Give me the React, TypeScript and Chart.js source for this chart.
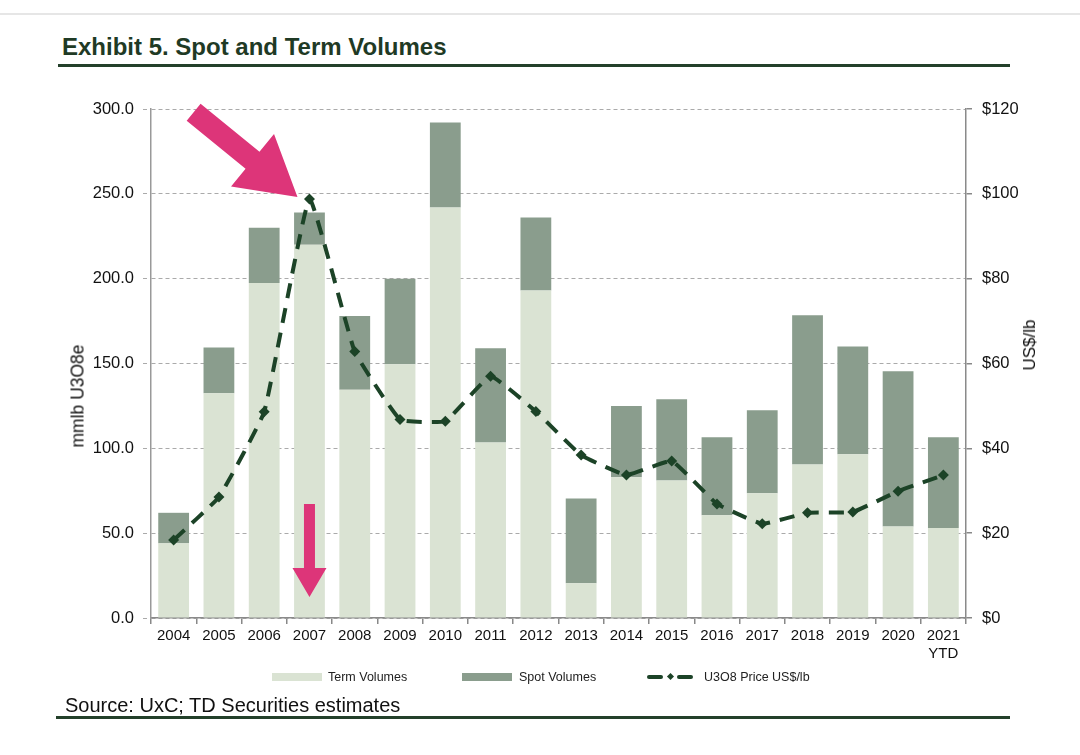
import React, { useEffect, useRef } from "react";
import { Chart, registerables } from "chart.js";

Chart.register(...registerables);

const categories: (string | string[])[] = [
  "2004", "2005", "2006", "2007", "2008", "2009", "2010", "2011", "2012",
  "2013", "2014", "2015", "2016", "2017", "2018", "2019", "2020", ["2021", "YTD"],
];
const termVolumes = [44, 132.5, 197.5, 220, 134.5, 149.5, 242, 103.5, 193, 20.5, 83, 81, 60.5, 73.5, 90.5, 96.5, 54, 53];
const totalVolumes = [62, 159.5, 230, 239, 178, 200, 292, 159, 236, 70.5, 125, 129, 106.5, 122.5, 178.5, 160, 145.5, 106.5];
const spotVolumes = totalVolumes.map((t, i) => Math.round((t - termVolumes[i]) * 10) / 10);
const priceUSD = [18.4, 28.5, 48.6, 98.8, 62.8, 46.8, 46.4, 57, 48.7, 38.4, 33.7, 37, 26.9, 22.2, 24.8, 25, 29.9, 33.7];
const leftTicks = { min: 0, max: 300, step: 50 };
const rightTicks = { min: 0, max: 120, step: 20 };

const TERM_COLOR = "#dae3d3";
const SPOT_COLOR = "#8a9d8d";
const LINE_COLOR = "#1c4327";
const PINK = "#dd3579";
const FONT = "'Liberation Sans', Arial, sans-serif";

function drawArrow(
  ctx: CanvasRenderingContext2D,
  tipX: number, tipY: number, dx: number, dy: number,
  len: number, shaftW: number, headLen: number, headHalf: number
) {
  const m = Math.hypot(dx, dy);
  const ux = dx / m, uy = dy / m;
  const nx = -uy, ny = ux;
  const tailX = tipX - ux * len, tailY = tipY - uy * len;
  const bX = tipX - ux * headLen, bY = tipY - uy * headLen;
  ctx.beginPath();
  ctx.moveTo(tailX + nx * shaftW / 2, tailY + ny * shaftW / 2);
  ctx.lineTo(bX + nx * shaftW / 2, bY + ny * shaftW / 2);
  ctx.lineTo(bX + nx * headHalf, bY + ny * headHalf);
  ctx.lineTo(tipX, tipY);
  ctx.lineTo(bX - nx * headHalf, bY - ny * headHalf);
  ctx.lineTo(bX - nx * shaftW / 2, bY - ny * shaftW / 2);
  ctx.lineTo(tailX - nx * shaftW / 2, tailY - ny * shaftW / 2);
  ctx.closePath();
  ctx.fill();
}

const arrowPlugin = {
  id: "pinkArrows",
  afterDraw(chart: any) {
    const ctx = chart.ctx as CanvasRenderingContext2D;
    const meta = chart.getDatasetMeta(2);
    const pt = meta.data[3];
    if (!pt) return;
    const xPix = chart.scales.x.getPixelForValue(3);
    ctx.save();
    ctx.fillStyle = PINK;
    drawArrow(ctx, pt.x - 12, pt.y - 2, 103, 84, 134, 22, 58, 34);
    drawArrow(ctx, xPix, chart.chartArea.bottom - 21, 0, 1, 93, 11, 29, 17);
    ctx.restore();
  },
};

export default function App() {
  const ref = useRef<HTMLCanvasElement | null>(null);

  useEffect(() => {
    if (!ref.current) return;
    const chart = new Chart(ref.current, {
      type: "bar",
      data: {
        labels: categories as any,
        datasets: [
          {
            type: "bar",
            label: "Term Volumes",
            data: termVolumes,
            backgroundColor: TERM_COLOR,
            yAxisID: "y",
            stack: "vol",
            order: 2,
            categoryPercentage: 1,
            barPercentage: 0.68,
          },
          {
            type: "bar",
            label: "Spot Volumes",
            data: spotVolumes,
            backgroundColor: SPOT_COLOR,
            yAxisID: "y",
            stack: "vol",
            order: 2,
            categoryPercentage: 1,
            barPercentage: 0.68,
          },
          {
            type: "line",
            label: "U3O8 Price US$/lb",
            data: priceUSD,
            yAxisID: "y1",
            borderColor: LINE_COLOR,
            backgroundColor: LINE_COLOR,
            borderWidth: 4,
            borderDash: [15, 10],
            tension: 0.1,
            pointStyle: "rectRot",
            pointRadius: 5.5,
            pointBorderWidth: 0,
            pointBackgroundColor: LINE_COLOR,
            order: 0,
            fill: false,
          } as any,
        ],
      },
      options: {
        animation: false,
        responsive: false,
        maintainAspectRatio: false,
        layout: { padding: { left: 0, right: 0, top: 109, bottom: 97 } },
        plugins: { legend: { display: false }, tooltip: { enabled: false } },
        scales: {
          x: {
            stacked: true,
            offset: true,
            grid: {
              display: true,
              drawOnChartArea: false,
              drawTicks: true,
              tickLength: 6,
              color: "#888",
              lineWidth: 1.5,
              offset: true,
            },
            border: { color: "#8a8a8a", width: 1.5 },
            ticks: {
              color: "#111",
              font: { family: FONT, size: 15 },
              padding: 3,
              maxRotation: 0,
              autoSkip: false,
            },
            afterFit: (s: any) => { s.height = 40; },
          },
          y: {
            stacked: true,
            position: "left",
            min: leftTicks.min,
            max: leftTicks.max,
            grid: {
              color: "#aaaaaa",
              lineWidth: 1,
              tickLength: 8,
              tickBorderDash: [4, 3],
            } as any,
            border: { color: "#999", width: 1.5, dash: [4, 3] },
            ticks: {
              stepSize: leftTicks.step,
              color: "#111",
              font: { family: FONT, size: 16.5 },
              padding: 9,
              callback: (v: any) => Number(v).toFixed(1),
            },
            afterFit: (s: any) => { s.width = 151; },
          },
          y1: {
            position: "right",
            min: rightTicks.min,
            max: rightTicks.max,
            grid: {
              drawOnChartArea: false,
              tickLength: 6,
              color: "#888",
              lineWidth: 1.5,
            },
            border: { color: "#8a8a8a", width: 1.5 },
            ticks: {
              stepSize: rightTicks.step,
              color: "#111",
              font: { family: FONT, size: 16.5 },
              padding: 10,
              callback: (v: any) => "$" + v,
            },
            afterFit: (s: any) => { s.width = 114; },
          },
        },
      },
      plugins: [arrowPlugin],
    });
    return () => chart.destroy();
  }, []);

  const legendText: React.CSSProperties = {
    position: "absolute",
    top: 670,
    fontFamily: FONT,
    fontSize: 12.5,
    color: "#222",
    lineHeight: "14px",
    whiteSpace: "nowrap",
  };

  return (
    <div style={{ position: "fixed", left: 0, top: 0, width: 1080, height: 755, background: "#fff", overflow: "hidden" }}>
      <div style={{ position: "absolute", left: 0, top: 13, width: 1080, height: 2, background: "#e6e6e6" }} />
      <div style={{ position: "absolute", left: 62, top: 33, fontFamily: FONT, fontWeight: 700, fontSize: 24, color: "#1f3a25", whiteSpace: "nowrap", lineHeight: "28px" }}>
        Exhibit 5. Spot and Term Volumes
      </div>
      <div style={{ position: "absolute", left: 58, top: 64, width: 952, height: 2.5, background: "#23402a" }} />
      <canvas ref={ref} width={1080} height={755} style={{ position: "absolute", left: 0, top: 0, width: 1080, height: 755 }} />
      <div style={{ position: "absolute", left: 78, top: 396, transform: "translate(-50%, -50%) rotate(-90deg)", fontFamily: FONT, fontSize: 17.5, color: "#111", whiteSpace: "nowrap" }}>
        mmlb U3O8e
      </div>
      <div style={{ position: "absolute", left: 1030, top: 345, transform: "translate(-50%, -50%) rotate(-90deg)", fontFamily: FONT, fontSize: 17, color: "#111", whiteSpace: "nowrap" }}>
        US$/lb
      </div>
      <div style={{ position: "absolute", left: 272, top: 673, width: 50, height: 8, background: TERM_COLOR }} />
      <div style={{ ...legendText, left: 328 }}>Term Volumes</div>
      <div style={{ position: "absolute", left: 462, top: 673, width: 50, height: 8, background: SPOT_COLOR }} />
      <div style={{ ...legendText, left: 519 }}>Spot Volumes</div>
      <div style={{ position: "absolute", left: 647, top: 675, width: 16, height: 4, borderRadius: 2, background: LINE_COLOR }} />
      <div style={{ position: "absolute", left: 668, top: 674, width: 5, height: 5, transform: "rotate(45deg)", background: LINE_COLOR }} />
      <div style={{ position: "absolute", left: 677, top: 675, width: 16, height: 4, borderRadius: 2, background: LINE_COLOR }} />
      <div style={{ ...legendText, left: 704 }}>U3O8 Price US$/lb</div>
      <div style={{ position: "absolute", left: 65, top: 694, fontFamily: FONT, fontSize: 20, color: "#111", whiteSpace: "nowrap", lineHeight: "22px" }}>
        Source: UxC; TD Securities estimates
      </div>
      <div style={{ position: "absolute", left: 56, top: 716, width: 954, height: 2.5, background: "#23402a" }} />
    </div>
  );
}
